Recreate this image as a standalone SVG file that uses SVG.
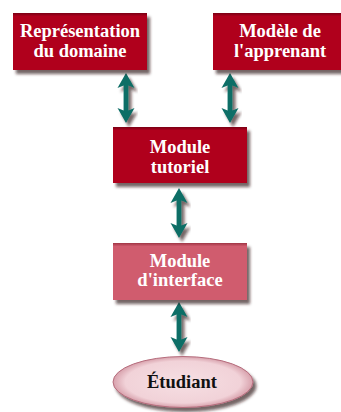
<svg xmlns="http://www.w3.org/2000/svg" width="341" height="412" viewBox="0 0 341 412">
  <defs>
    <filter id="shadow" x="-10%" y="-10%" width="125%" height="135%">
      <feDropShadow dx="3" dy="4" stdDeviation="1.8" flood-color="#2a1010" flood-opacity="0.65"/>
    </filter>
    <radialGradient id="ovalFill" cx="50%" cy="50%" r="55%">
      <stop offset="0" stop-color="#f6dfe3"/>
      <stop offset="0.75" stop-color="#f1d2d8"/>
      <stop offset="1" stop-color="#c98593"/>
    </radialGradient>
    <linearGradient id="boxEdge" x1="0" y1="0" x2="0" y2="1">
      <stop offset="0" stop-color="#7a0012"/>
      <stop offset="0.06" stop-color="#b0001f"/>
      <stop offset="1" stop-color="#b0001f"/>
    </linearGradient>
    <linearGradient id="boxEdgeLight" x1="0" y1="0" x2="0" y2="1">
      <stop offset="0" stop-color="#a03446"/>
      <stop offset="0.06" stop-color="#d05c6e"/>
      <stop offset="1" stop-color="#d05c6e"/>
    </linearGradient>
    <!-- double-headed vertical arrow, tip at y=0, length 50 -->
    <path id="dblArrow" d="M0,0 L8.5,15 L2.4,12.5 L2.4,37.5 L8.5,35 L0,50 L-8.5,35 L-2.4,37.5 L-2.4,12.5 L-8.5,15 Z"/>
  </defs>
  <style>
    .box { fill: url(#boxEdge); filter: url(#shadow); }
    .box.light { fill: url(#boxEdgeLight); }
    .label { font-family: "Liberation Serif", "Times New Roman", serif; font-weight: bold; font-size: 18.5px; fill: #ffffff; text-anchor: middle; }
    .label.dark { fill: #111111; }
    .arrow { fill: #0c6e66; filter: url(#shadow); }
  </style>

  <rect width="341" height="412" fill="#ffffff"/>

  <g id="connectors">
    <use href="#dblArrow" class="arrow" transform="translate(126,73)"/>
    <use href="#dblArrow" class="arrow" transform="translate(230,73)"/>
    <use href="#dblArrow" class="arrow" transform="translate(179,188)"/>
    <use href="#dblArrow" class="arrow" transform="translate(179,302)"/>
  </g>

  <g id="representation-domaine">
    <rect class="box" x="13" y="13" width="134" height="57"/>
    <text class="label" x="80" y="37">Représentation</text>
    <text class="label" x="80" y="57">du domaine</text>
  </g>

  <g id="modele-apprenant">
    <rect class="box" x="213" y="13" width="134" height="57"/>
    <text class="label" x="280" y="37">Modèle de</text>
    <text class="label" x="280" y="57">l'apprenant</text>
  </g>

  <g id="module-tutoriel">
    <rect class="box" x="113" y="127" width="134" height="56"/>
    <text class="label" x="180" y="153">Module</text>
    <text class="label" x="180" y="173">tutoriel</text>
  </g>

  <g id="module-interface">
    <rect class="box light" x="113" y="243" width="134" height="57"/>
    <text class="label" x="180" y="267">Module</text>
    <text class="label" x="180" y="286">d'interface</text>
  </g>

  <g id="etudiant">
    <ellipse cx="183" cy="382" rx="70" ry="25.5" fill="url(#ovalFill)" stroke="#b56c7c" stroke-width="1" filter="url(#shadow)"/>
    <text class="label dark" x="182" y="388">Étudiant</text>
  </g>
</svg>
